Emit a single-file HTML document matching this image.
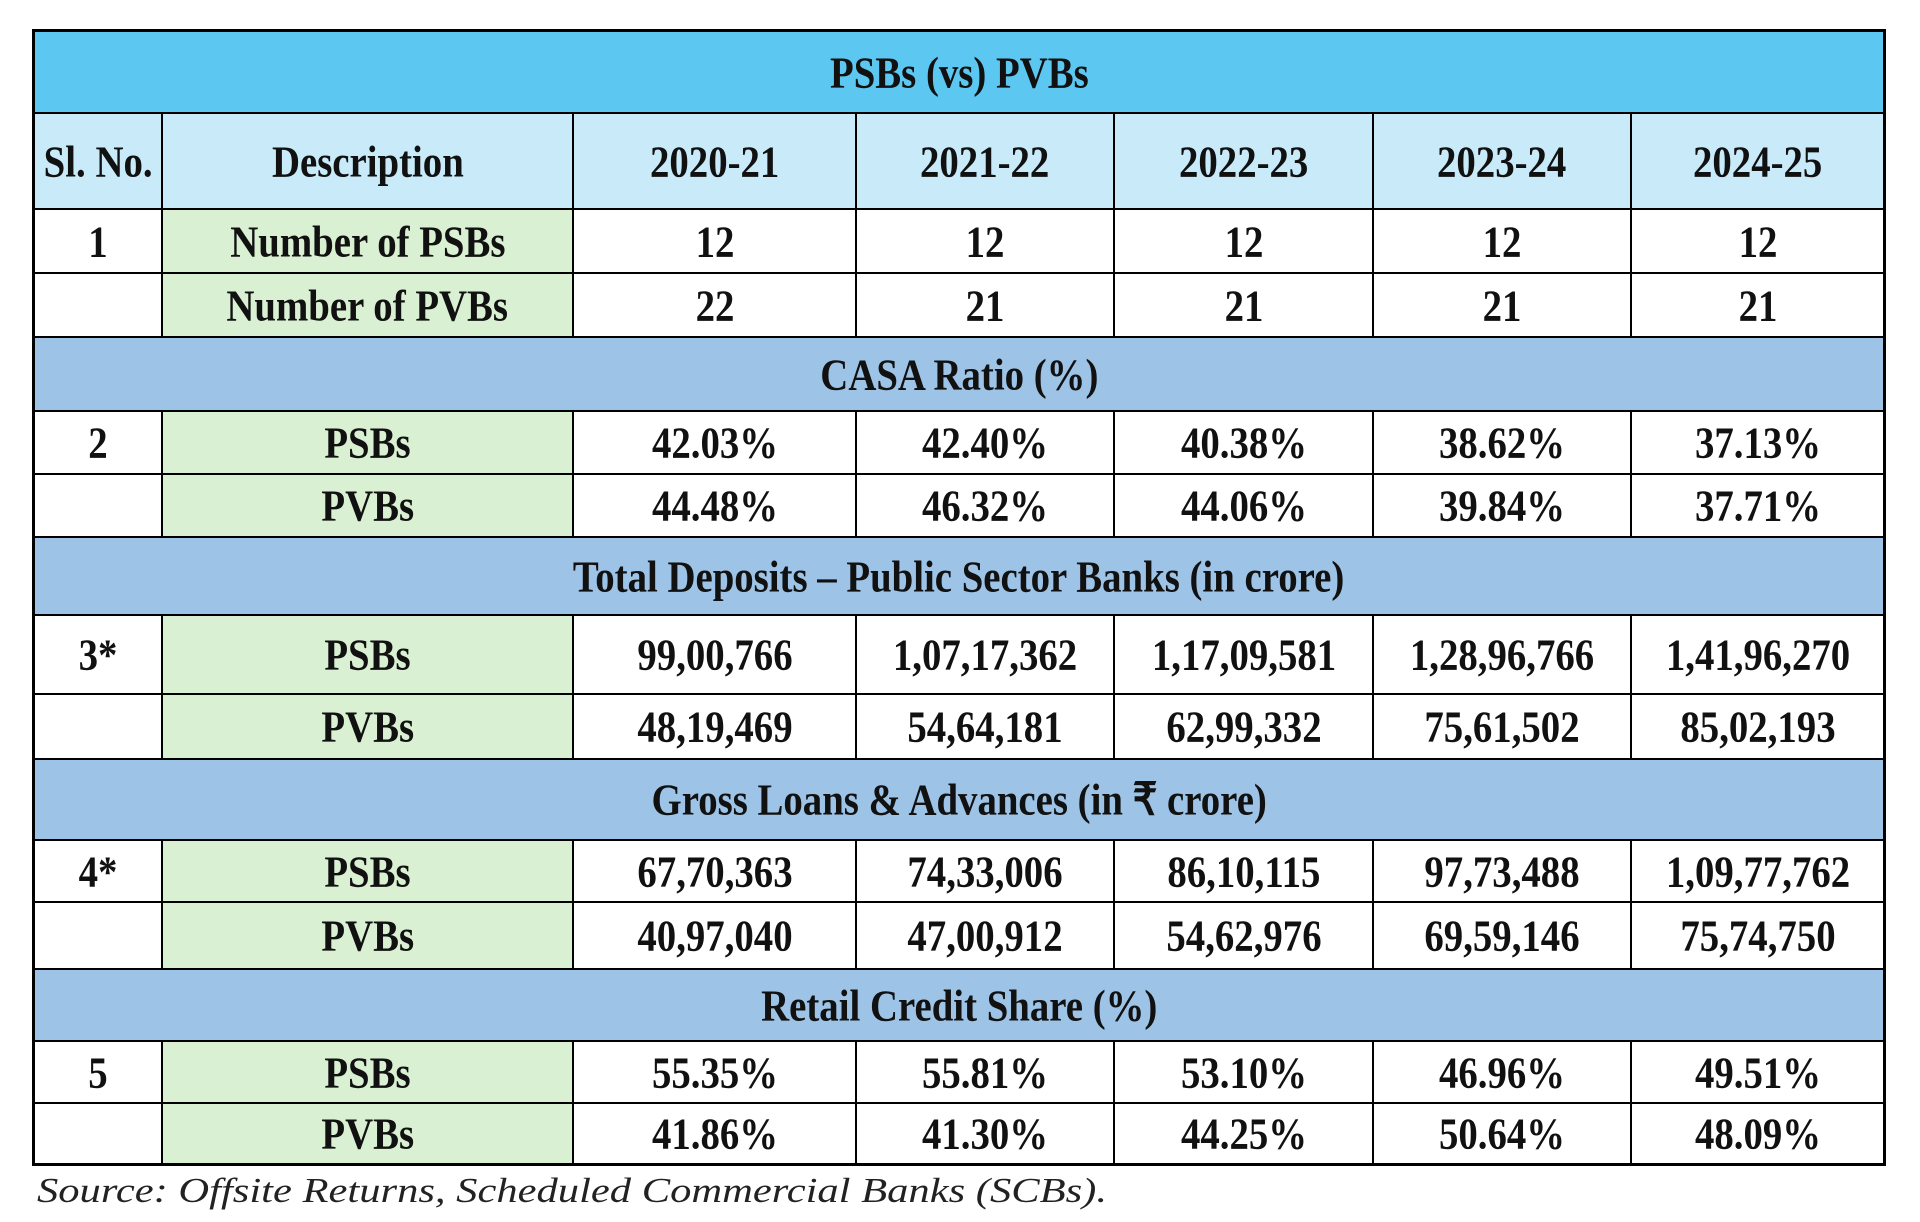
<!DOCTYPE html>
<html><head><meta charset="utf-8"><style>
body{margin:0;width:1920px;height:1222px;background:#fff;position:relative;overflow:hidden;font-family:"Liberation Serif","Times New Roman",serif;}
.c{position:absolute;box-sizing:border-box;display:flex;align-items:center;justify-content:center;font-weight:bold;font-size:40px;color:#111;border:1.5px solid #000;white-space:nowrap;}
.c span{display:inline-block;transform:scale(0.97,1.12);}
#src{position:absolute;left:36px;top:1168px;}
</style></head><body>
<svg id="src" width="1120" height="48"><text x="1" y="34" font-family="Liberation Serif, serif" font-style="italic" font-size="35" fill="#222" textLength="1070" lengthAdjust="spacingAndGlyphs">Source: Offsite Returns, Scheduled Commercial Banks (SCBs).</text></svg>
<script>
const years=["2020-21","2021-22","2022-23","2023-24","2024-25"];
const sections=[
 {band:null,sl:"1",rows:[["Number of PSBs",["12","12","12","12","12"]],["Number of PVBs",["22","21","21","21","21"]]]},
 {band:"CASA Ratio (%)",sl:"2",rows:[["PSBs",["42.03%","42.40%","40.38%","38.62%","37.13%"]],["PVBs",["44.48%","46.32%","44.06%","39.84%","37.71%"]]]},
 {band:"Total Deposits – Public Sector Banks (in crore)",sl:"3*",rows:[["PSBs",["99,00,766","1,07,17,362","1,17,09,581","1,28,96,766","1,41,96,270"]],["PVBs",["48,19,469","54,64,181","62,99,332","75,61,502","85,02,193"]]]},
 {band:"Gross Loans & Advances (in ₹ crore)",sl:"4*",rows:[["PSBs",["67,70,363","74,33,006","86,10,115","97,73,488","1,09,77,762"]],["PVBs",["40,97,040","47,00,912","54,62,976","69,59,146","75,74,750"]]]},
 {band:"Retail Credit Share (%)",sl:"5",rows:[["PSBs",["55.35%","55.81%","53.10%","46.96%","49.51%"]],["PVBs",["41.86%","41.30%","44.25%","50.64%","48.09%"]]]}
];
const colX=[32,162,573,856,1114,1373,1631,1886];
const rowY=[29,113,209,273,337,411,474,537,615,694,759,840,902,969,1041,1103,1166];
const L=colX[0],R=colX[7];
function cell(x0,x1,y0,y1,txt,bg,name,extra){
 const d=document.createElement('div');d.className='c';
 d.style.left=x0+'px';d.style.top=y0+'px';d.style.width=(x1-x0)+'px';d.style.height=(y1-y0)+'px';
 d.style.background=bg;
 const s=document.createElement('span');s.textContent=txt;d.appendChild(s);
 if(extra)Object.assign(d.style,extra);
 
 
 document.body.appendChild(d);return d;
}
cell(L,R,rowY[0],rowY[1],"PSBs (vs) PVBs","#5CC8F2","table-title",{borderWidth:"3px 3px 1.5px 3px"});
cell(colX[0],colX[1],rowY[1],rowY[2],"Sl. No.","#C8EAF9","header-sl-no",{borderLeftWidth:"3px"});
cell(colX[1],colX[2],rowY[1],rowY[2],"Description","#C8EAF9","header-description");
years.forEach((y,i)=>{cell(colX[i+2],colX[i+3],rowY[1],rowY[2],y,"#C8EAF9","header-year",i==4?{borderRightWidth:"3px"}:null);});
let r=2;
sections.forEach((s,si)=>{
 if(s.band){cell(L,R,rowY[r],rowY[r+1],s.band,"#9DC3E6","section-band",{borderLeftWidth:"3px",borderRightWidth:"3px"});r++;}
 s.rows.forEach((row,ri)=>{
  const last=(si==sections.length-1&&ri==1)?{borderBottomWidth:"3px"}:{};
  cell(colX[0],colX[1],rowY[r],rowY[r+1],ri==0?s.sl:"","#fff","sl-no-cell",Object.assign({borderLeftWidth:"3px"},last));
  cell(colX[1],colX[2],rowY[r],rowY[r+1],row[0],"#D9F1D2","row-label",last);
  row[1].forEach((v,i)=>{
   const ex=Object.assign({},last);if(i==4)ex.borderRightWidth="3px";
   cell(colX[i+2],colX[i+3],rowY[r],rowY[r+1],v,"#fff","value-cell",ex);
  });
  r++;
 });
});
</script>
</body></html>
